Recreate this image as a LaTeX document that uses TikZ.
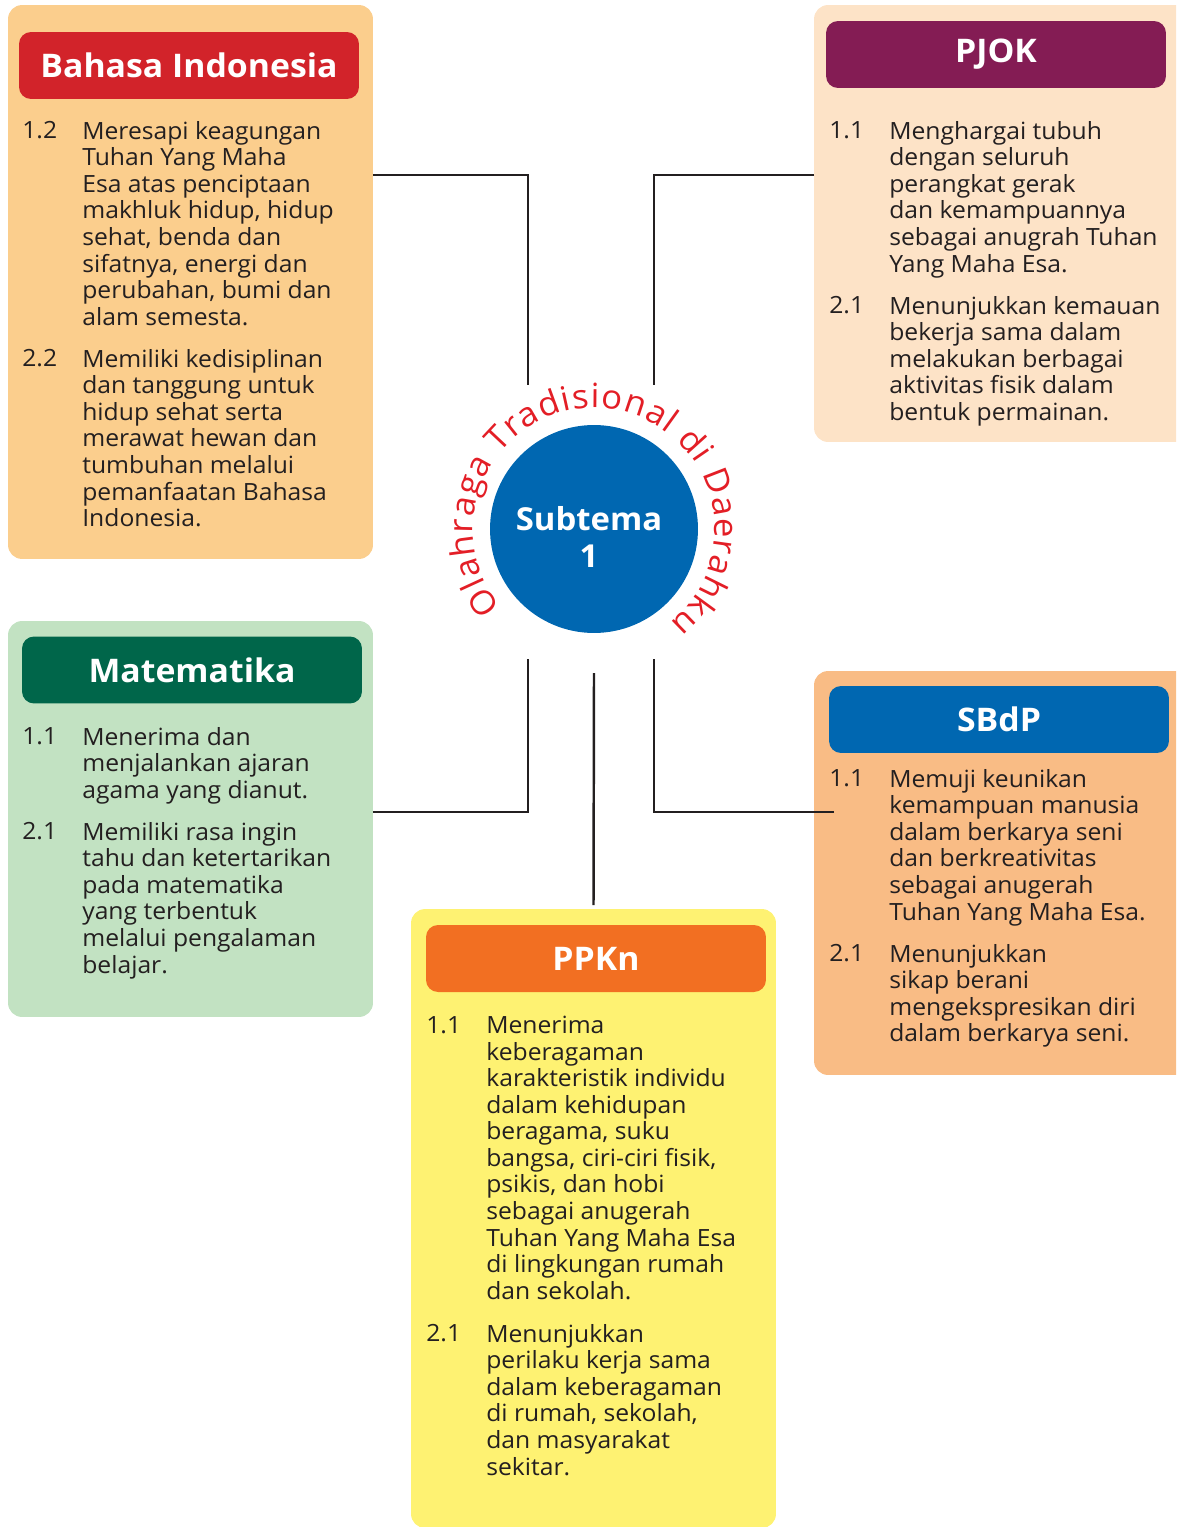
\documentclass[tikz,border=0pt]{standalone}
\usepackage{fontspec}
\setmainfont{Open Sans}[FakeStretch=1.04]
\usetikzlibrary{calc,decorations.text}

\definecolor{txt}{HTML}{231F20}
\definecolor{biback}{HTML}{FBCE8D}
\definecolor{bihead}{HTML}{D2232A}
\definecolor{pjback}{HTML}{FDE3C7}
\definecolor{pjhead}{HTML}{841C54}
\definecolor{mtback}{HTML}{C2E2C2}
\definecolor{mthead}{HTML}{00664A}
\definecolor{sbback}{HTML}{F9BC85}
\definecolor{sbhead}{HTML}{0067B1}
\definecolor{ppback}{HTML}{FEF272}
\definecolor{pphead}{HTML}{F26F22}
\definecolor{arcred}{HTML}{E31E26}

\newcommand\arcfnt{\fontsize{19}{19}\selectfont}

\begin{document}
\begin{tikzpicture}[%
        x=0.02cm, y=-0.02cm,
        font=\fontsize{13.5}{15.1}\selectfont, text=txt,
        panel/.style={rounded corners=0.28cm, inner sep=0pt, outer sep=0pt},
        head/.style={rounded corners=0.24cm, minimum width=6.8cm, minimum height=1.34cm,
            inner sep=0pt, text=white, font=\fontsize{18.5}{21}\selectfont\bfseries},
        num/.style={anchor=north west, inner sep=0pt},
        item/.style={anchor=north west, inner sep=0pt, align=left},
        link/.style={draw=txt, line width=1.4pt}
        ]
            \path[use as bounding box, clip] (0,0) rectangle (1176,1527);

            % Kotak
            \node[panel, fill=biback, minimum width=7.3cm, minimum height=11.08cm] (bi) at (190.5,282) {};
            \node[panel, fill=pjback, minimum width=7.52cm, minimum height=8.74cm] (pj) at (1002,223.5) {};
            \node[panel, fill=mtback, minimum width=7.3cm, minimum height=7.92cm] (mt) at (190.5,819) {};
            \node[panel, fill=sbback, minimum width=7.52cm, minimum height=8.08cm] (sb) at (1002,873) {};
            \node[panel, fill=ppback, minimum width=7.3cm, minimum height=12.38cm] (pp) at (593.5,1218.5) {};

            % Judul
            \node[head, fill=bihead] (bi-h) at (189,65.5) {Bahasa Indonesia};
            \node[head, fill=pjhead] (pj-h) at (996,54.5) {PJOK};
            \node[head, fill=mthead] (mt-h) at (192,670) {Matematika};
            \node[head, fill=sbhead] (sb-h) at (999,719.5) {SBdP};
            \node[head, fill=pphead] (pp-h) at (596,958.5) {PPKn};

            % Subtema
            \node[circle, fill=sbhead, minimum size=4.16cm, inner sep=0pt] (sub) at (594,529) {};
            \node[align=center, text=white, font=\fontsize{18}{21.5}\selectfont\bfseries] (sub-t) at (589,537) {Subtema\\1};
            \path[decorate, decoration={text along path, text color=arcred,
                    text={|\arcfnt|Olahraga Tradisional di Daerahku}, text align=fit to path}]
                (sub.center) ++(220:2.42cm) arc[start angle=220, end angle=-51, radius=2.42cm];

            % Garis
            \coordinate (bi-end) at (528,385);
            \coordinate (pj-end) at (654,385);
            \coordinate (mt-end) at (528,659);
            \coordinate (sb-end) at (654,659);
            \coordinate (pp-end) at (594,673);
            \draw[link] ($(bi.north east)+(0,170)$) -| (bi-end);
            \draw[link] ($(pj.north west)+(0,170)$) -| (pj-end);
            \draw[link] ($(mt.north east)+(0,191)$) -| (mt-end);
            \draw[link] ($(sb.north west)+(20,141)$) -| (sb-end);
            \draw[link] ($(pp.north)+(0,-4)$) -- (pp-end);

            % Bahasa Indonesia
            \node[num] (bi-n1) at (22,121) {1.2};
            \node[item] (bi-t1) at (82,121) {Meresapi keagungan\\Tuhan Yang Maha\\Esa atas penciptaan\\makhluk hidup, hidup\\sehat, benda dan\\sifatnya, energi dan\\perubahan, bumi dan\\alam semesta.};
            \node[num] (bi-n2) at (22,349) {2.2};
            \node[item] (bi-t2) at (82,349) {Memiliki kedisiplinan\\dan tanggung untuk\\hidup sehat serta\\merawat hewan dan\\tumbuhan melalui\\pemanfaatan Bahasa\\Indonesia.};

            % PJOK
            \node[num] (pj-n1) at (829,121) {1.1};
            \node[item] (pj-t1) at (889,121) {Menghargai tubuh\\dengan seluruh\\perangkat gerak\\dan kemampuannya\\sebagai anugrah Tuhan\\Yang Maha Esa.};
            \node[num] (pj-n2) at (829,296) {2.1};
            \node[item] (pj-t2) at (889,296) {Menunjukkan kemauan\\bekerja sama dalam\\melakukan berbagai\\aktivitas fisik dalam\\bentuk permainan.};

            % Matematika
            \node[num] (mt-n1) at (22,727) {1.1};
            \node[item] (mt-t1) at (82,727) {Menerima dan\\menjalankan ajaran\\agama yang dianut.};
            \node[num] (mt-n2) at (22,822) {2.1};
            \node[item] (mt-t2) at (82,822) {Memiliki rasa ingin\\tahu dan ketertarikan\\pada matematika\\yang terbentuk\\melalui pengalaman\\belajar.};

            % SBdP
            \node[num] (sb-n1) at (829,769) {1.1};
            \node[item] (sb-t1) at (889,769) {Memuji keunikan\\kemampuan manusia\\dalam berkarya seni\\dan berkreativitas\\sebagai anugerah\\Tuhan Yang Maha Esa.};
            \node[num] (sb-n2) at (829,944) {2.1};
            \node[item] (sb-t2) at (889,944) {Menunjukkan\\sikap berani\\mengekspresikan diri\\dalam berkarya seni.};

            % PPKn
            \node[num] (pp-n1) at (426,1016) {1.1};
            \node[item] (pp-t1) at (486,1016) {Menerima\\keberagaman\\karakteristik individu\\dalam kehidupan\\beragama, suku\\bangsa, ciri-ciri fisik,\\psikis, dan hobi\\sebagai anugerah\\Tuhan Yang Maha Esa\\di lingkungan rumah\\dan sekolah.};
            \node[num] (pp-n2) at (426,1324) {2.1};
            \node[item] (pp-t2) at (486,1324) {Menunjukkan\\perilaku kerja sama\\dalam keberagaman\\di rumah, sekolah,\\dan masyarakat\\sekitar.};

        \end{tikzpicture}
\end{document}
